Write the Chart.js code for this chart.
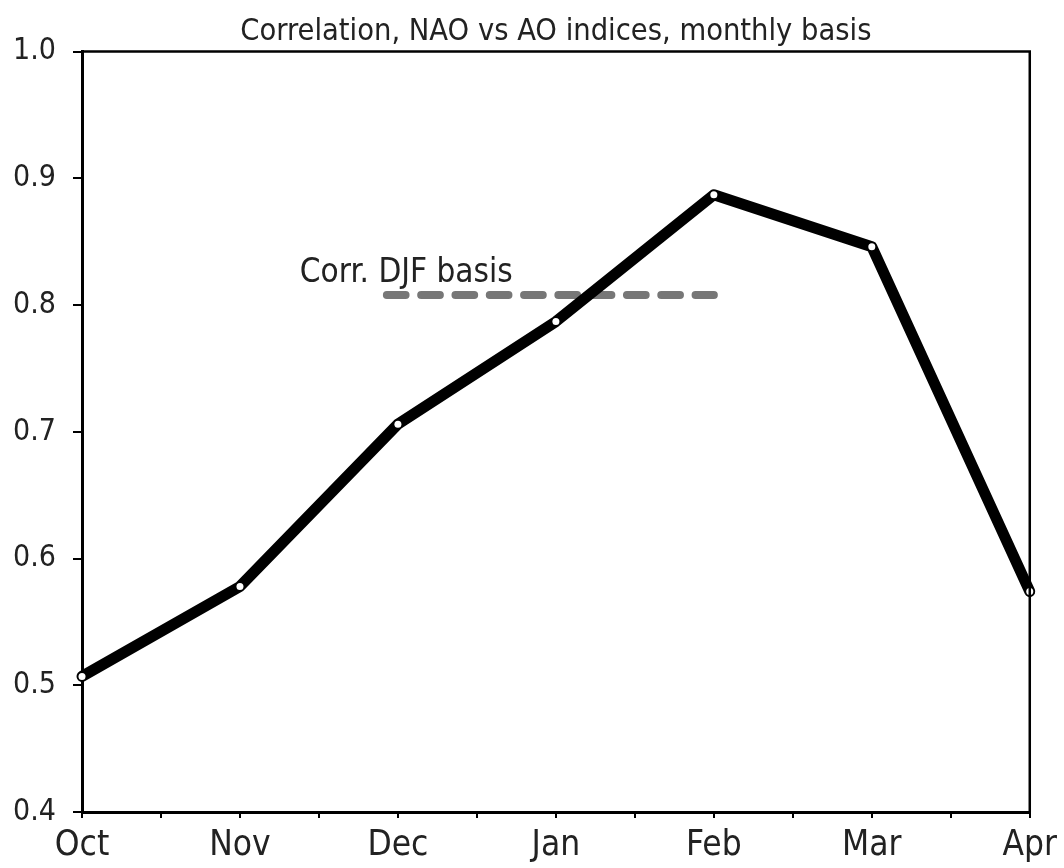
<!DOCTYPE html>
<html>
<head>
<meta charset="utf-8">
<script src="https://cdn.jsdelivr.net/npm/chart.js@4"></script>
<style>
  html, body { margin: 0; padding: 0; background: #fff; overflow: hidden; }
  #wrap { width: 1064px; height: 868px; }
  canvas { display: block; }
</style>
</head>
<body>
<div id="wrap"><canvas id="myChart" width="1064" height="868"></canvas></div>
<script>
var months = ["Oct", "Nov", "Dec", "Jan", "Feb", "Mar", "Apr"];
var corr = [0.507, 0.578, 0.706, 0.787, 0.887, 0.846, 0.574];
var djfValue = 0.808;
var djfFrom = 1.93;   // starts just before Dec
var djfTo = 4;        // ends at Feb
var yTicks = [0.4, 0.5, 0.6, 0.7, 0.8, 0.9, 1.0];

var FONT = "'Liberation Sans Narrow', 'Arial Narrow', 'DejaVu Sans Condensed', sans-serif";

var monthly = corr.map(function (v, i) { return { x: i, y: v }; });
var djf = [{ x: djfFrom, y: djfValue }, { x: djfTo, y: djfValue }];

// box round the plot area + the label of the dashed line
var frame = {
  id: "frame",
  afterDraw: function (chart) {
    var c = chart.ctx, a = chart.chartArea;
    c.save();
    c.strokeStyle = "#000";
    c.lineWidth = 2.5;
    c.beginPath();
    c.moveTo(a.left, a.top);
    c.lineTo(a.right, a.top);
    c.lineTo(a.right, a.bottom);
    c.stroke();
    var xs = chart.scales.x, ys = chart.scales.y;
    c.fillStyle = "#222";
    c.font = "33px " + FONT;
    c.textAlign = "left";
    c.textBaseline = "alphabetic";
    c.fillText("Corr. DJF basis", xs.getPixelForValue(djfFrom) - 87, ys.getPixelForValue(djfValue) - 13);
    c.restore();
  }
};

var ctx = document.getElementById("myChart");
var myChart = new Chart(ctx, {
  type: "line",
  data: {
    datasets: [
      {
        label: "Corr. DJF basis",
        data: djf,
        borderColor: "#777777",
        borderWidth: 8,
        borderDash: [18.7, 15.6],
        borderCapStyle: "round",
        pointRadius: 0,
        fill: false,
        order: 2
      },
      {
        label: "Monthly",
        data: monthly,
        borderColor: "#000",
        borderWidth: 11,
        borderJoinStyle: "round",
        borderCapStyle: "round",
        pointRadius: 3.5,
        pointBackgroundColor: "#fff",
        pointBorderWidth: 0,
        clip: false,
        fill: false,
        order: 1
      }
    ]
  },
  options: {
    responsive: false,
    animation: false,
    layout: { padding: { right: 33, bottom: 0, left: 0, top: 0 } },
    plugins: {
      legend: { display: false },
      tooltip: { enabled: false },
      title: {
        display: true,
        fullSize: false,
        text: "Correlation, NAO vs AO indices, monthly basis",
        color: "#222",
        font: { family: FONT, size: 30.5, weight: "normal" },
        padding: { top: 14, bottom: 1 }
      }
    },
    scales: {
      x: {
        type: "linear",
        min: 0,
        max: months.length - 1,
        afterFit: function (s) { s.height = 56; },
        afterBuildTicks: function (s) {
          var t = [];
          for (var i = 0; i <= (months.length - 1) * 2; i++) t.push({ value: i / 2 });
          s.ticks = t;
        },
        ticks: {
          autoSkip: false,
          maxRotation: 0,
          padding: 7,
          color: "#222",
          font: { family: FONT, size: 35 },
          callback: function (v) { return Number.isInteger(v) ? months[v] : ""; }
        },
        grid: { drawOnChartArea: false, drawTicks: true, tickLength: 6, color: "#000", lineWidth: 2 },
        border: { display: true, color: "#000", width: 3 }
      },
      y: {
        min: 0.4,
        max: 1.0,
        afterFit: function (s) { s.width = 82; },
        afterBuildTicks: function (s) { s.ticks = yTicks.map(function (v) { return { value: v }; }); },
        ticks: {
          padding: 17,
          color: "#222",
          font: { family: FONT, size: 30 },
          callback: function (v) { return v.toFixed(1); }
        },
        grid: { drawOnChartArea: false, drawTicks: true, tickLength: 9, color: "#000", lineWidth: 2 },
        border: { display: true, color: "#000", width: 3 }
      }
    }
  },
  plugins: [frame]
});
</script>
</body>
</html>
